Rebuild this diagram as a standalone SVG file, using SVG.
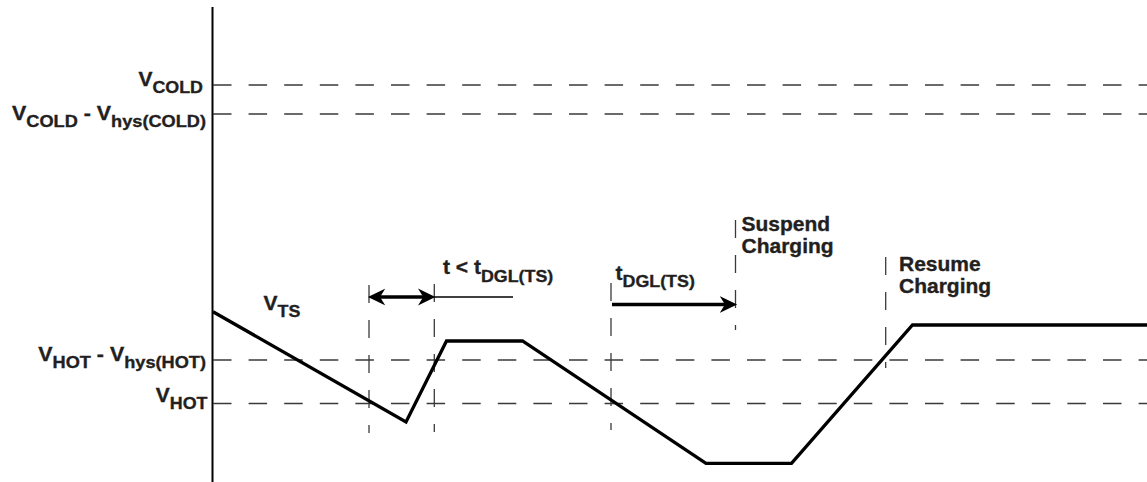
<svg xmlns="http://www.w3.org/2000/svg" width="1147" height="482" viewBox="0 0 1147 482">
<style>
  .lbl { font-family: "Liberation Sans", Arial, sans-serif; font-weight: bold; font-size: 20px; fill: #231f20; stroke: #231f20; stroke-width: 0.35; white-space: pre; }
  .sub { font-size: 17px; }
  .hdash { stroke: #3a3a3a; stroke-width: 1.3; stroke-dasharray: 18.5 17.1; fill: none; }
  .vdash { stroke: #3a3a3a; stroke-width: 1.3; stroke-dasharray: 18 17; fill: none; }
  .wave { stroke: #000; stroke-width: 3.3; fill: none; stroke-linejoin: miter; }
  .arrow { stroke: #000; stroke-width: 3.3; fill: none; }
  .thin { stroke: #000; stroke-width: 1.4; fill: none; }
</style>
<defs>
  <marker id="ah" markerUnits="userSpaceOnUse" markerWidth="18" markerHeight="18" viewBox="0 0 17 17" refX="6" refY="8.5" orient="auto-start-reverse">
    <path d="M0,0.5 L16.5,8.5 L0,16.5 L5,8.5 z" fill="#000"/>
  </marker>
</defs>
<rect width="1147" height="482" fill="#fff"/>

<g id="axis">
  <line x1="212.5" y1="7" x2="212.5" y2="482" stroke="#000" stroke-width="2"/>
</g>

<g id="guides">
  <line class="hdash" x1="213" y1="85" x2="1147" y2="85"/>
  <line class="hdash" x1="213" y1="114" x2="1147" y2="114"/>
  <line class="hdash" x1="213" y1="360" x2="1147" y2="360"/>
  <line class="hdash" x1="213" y1="403.5" x2="1147" y2="403.5"/>
  <line class="vdash" x1="369" y1="285" x2="369" y2="433"/>
  <line class="vdash" x1="434.3" y1="284" x2="434.3" y2="432"/>
  <line class="vdash" x1="611" y1="283" x2="611" y2="430"/>
  <line class="vdash" x1="735.5" y1="220" x2="735.5" y2="330"/>
  <line class="vdash" x1="885.7" y1="257" x2="885.7" y2="368"/>
</g>

<g id="waveform">
  <polyline class="wave" points="213,311.7 406,422 446.5,341 522.5,341 706,463.3 791.5,463.3 912.5,325 1147,325"/>
</g>

<g id="connectors">
  <line class="arrow" x1="379" y1="297" x2="424.3" y2="297" marker-start="url(#ah)" marker-end="url(#ah)"/>
  <line class="thin" x1="434.3" y1="297" x2="513" y2="297"/>
  <line class="arrow" x1="612" y1="304.5" x2="726" y2="304.5" marker-end="url(#ah)"/>
</g>

<g id="label-vcold" transform="translate(203,86) scale(1.05,1)">
  <text class="lbl" x="0" y="0" text-anchor="end">V<tspan class="sub" dy="7">COLD</tspan></text>
</g>
<g id="label-vcold-hys" transform="translate(206,119.5) scale(1.07,1)">
  <text class="lbl" x="0" y="0" text-anchor="end">V<tspan class="sub" dy="7">COLD</tspan><tspan dy="-7"> - V</tspan><tspan class="sub" dy="7">hys(COLD)</tspan></text>
</g>
<g id="label-vhot-hys" transform="translate(206,360.5) scale(1.07,1)">
  <text class="lbl" x="0" y="0" text-anchor="end">V<tspan class="sub" dy="7">HOT</tspan><tspan dy="-7"> - V</tspan><tspan class="sub" dy="7">hys(HOT)</tspan></text>
</g>
<g id="label-vhot" transform="translate(207.5,402) scale(1.05,1)">
  <text class="lbl" x="0" y="0" text-anchor="end">V<tspan class="sub" dy="7">HOT</tspan></text>
</g>
<g id="label-vts" transform="translate(263.5,309.5) scale(1.05,1)">
  <text class="lbl" x="0" y="0">V<tspan class="sub" dy="7.5">TS</tspan></text>
</g>
<g id="label-tlt" transform="translate(443,273.5) scale(1.05,1)">
  <text class="lbl" x="0" y="0">t &lt; t<tspan class="sub" dy="8">DGL(TS)</tspan></text>
</g>
<g id="label-tdgl" transform="translate(615.5,280) scale(1.05,1)">
  <text class="lbl" x="0" y="0">t<tspan class="sub" dy="7">DGL(TS)</tspan></text>
</g>
<g id="label-suspend" transform="translate(741.5,231) scale(1.05,1)">
  <text class="lbl" x="0" y="0">Suspend</text>
  <text class="lbl" x="0" y="22.5">Charging</text>
</g>
<g id="label-resume" transform="translate(899,270.5) scale(1.05,1)">
  <text class="lbl" x="0" y="0">Resume</text>
  <text class="lbl" x="0" y="23">Charging</text>
</g>
</svg>
